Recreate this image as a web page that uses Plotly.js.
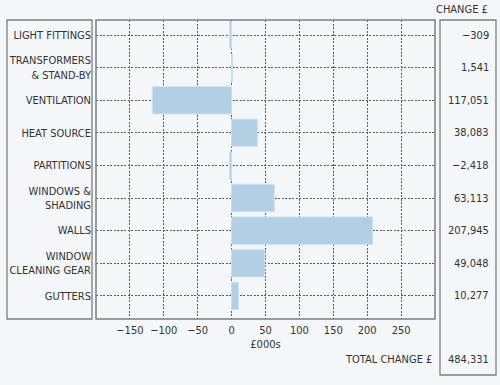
<!DOCTYPE html>
<html>
<head>
<meta charset="utf-8">
<script src="https://cdn.plot.ly/plotly-3.0.1.min.js"></script>
<style>html,body{margin:0;padding:0;background:#f4f7fa;}</style>
</head>
<body>
<div id="chart" style="width:500px;height:385px;"></div>
<script>
const categories = ["LIGHT FITTINGS", "TRANSFORMERS<br>& STAND-BY", "VENTILATION", "HEAT SOURCE", "PARTITIONS", "WINDOWS &<br>SHADING", "WALLS", "WINDOW<br>CLEANING GEAR", "GUTTERS"];
const barValues = [-3, 1.5, -117, 38, -3, 63, 208, 49, 10];   // £000s
const changeLabels = ["\u2212309", "1,541", "117,051", "38,083", "\u22122,418", "63,113", "207,945", "49,048", "10,277"];
const tickValues = [-150, -100, -50, 0, 50, 100, 150, 200, 250];
const tickTexts = ["\u2212150", "\u2212100", "\u221250", "0", "50", "100", "150", "200", "250"];
const totalLabel = "484,331";

const W = 500, H = 385;
const M = {l: 96, r: 65, t: 20, b: 66};
const PW = W - M.l - M.r, PH = H - M.t - M.b;
const px = x => (x - M.l) / PW;
const py = y => 1 - (y - M.t) / PH;

const FONT = "'Liberation Sans Narrow', 'DejaVu Sans Condensed', 'Arial Narrow', sans-serif";
const TXT = "#333333";
const BORDER = "#7d7d7d";
const GRID = "#5a5a5a";

const trace = {
  type: "bar",
  orientation: "h",
  y: categories,
  x: barValues,
  marker: {color: "#b3cfe3", line: {color: "#cfe0ee", width: 1}},
  hoverinfo: "skip"
};

const annotations = categories.map((c, i) => ({
  xref: "paper", yref: "y", x: px(491), y: c,
  text: changeLabels[i], showarrow: false, xanchor: "right", yanchor: "middle",
  font: {family: FONT, size: 11, color: TXT}
}));
annotations.push({xref: "paper", yref: "paper", x: px(490), y: py(9), text: "CHANGE \u00a3",
  showarrow: false, xanchor: "right", yanchor: "middle", font: {family: FONT, size: 11, color: TXT}});
annotations.push({xref: "paper", yref: "paper", x: px(434), y: py(359), text: "TOTAL CHANGE \u00a3",
  showarrow: false, xanchor: "right", yanchor: "middle", font: {family: FONT, size: 11, color: TXT}});
annotations.push({xref: "paper", yref: "paper", x: px(491), y: py(359), text: totalLabel,
  showarrow: false, xanchor: "right", yanchor: "middle", font: {family: FONT, size: 11, color: TXT}});

const shapes = [
  {type: "rect", xref: "paper", yref: "paper", x0: px(7), x1: px(92), y0: py(319), y1: py(20), line: {color: BORDER, width: 1.3}},
  {type: "rect", xref: "paper", yref: "paper", x0: px(440), x1: px(496), y0: py(375), y1: py(20), line: {color: BORDER, width: 1.3}},
  {type: "rect", xref: "paper", yref: "paper", x0: 0, x1: 1, y0: 0, y1: 1, line: {color: BORDER, width: 1.5}, layer: "above"}
];

const layout = {
  width: W, height: H,
  margin: M,
  paper_bgcolor: "#f4f7fa",
  plot_bgcolor: "#f4f7fa",
  showlegend: false,
  bargap: 0.16,
  font: {family: FONT, size: 11, color: TXT},
  xaxis: {
    range: [-200, 300],
    tickvals: tickValues, ticktext: tickTexts,
    showgrid: true, gridcolor: GRID, gridwidth: 1, griddash: "2px,1.5px",
    zeroline: false, showline: false, ticks: "",
    ticklabelstandoff: 3,
    tickfont: {family: FONT, size: 11, color: TXT},
    title: {text: "\u00a3000s", font: {family: FONT, size: 11, color: TXT}, standoff: 4},
    fixedrange: true
  },
  yaxis: {
    type: "category",
    range: [8.71, -0.46],
    showgrid: true, gridcolor: GRID, gridwidth: 1, griddash: "2px,1.5px",
    zeroline: false, showline: false, ticks: "",
    ticklabelstandoff: 4,
    tickfont: {family: FONT, size: 11, color: TXT},
    fixedrange: true
  },
  shapes: shapes,
  annotations: annotations
};

Plotly.newPlot("chart", [trace], layout, {displayModeBar: false, staticPlot: true});
</script>
</body>
</html>
